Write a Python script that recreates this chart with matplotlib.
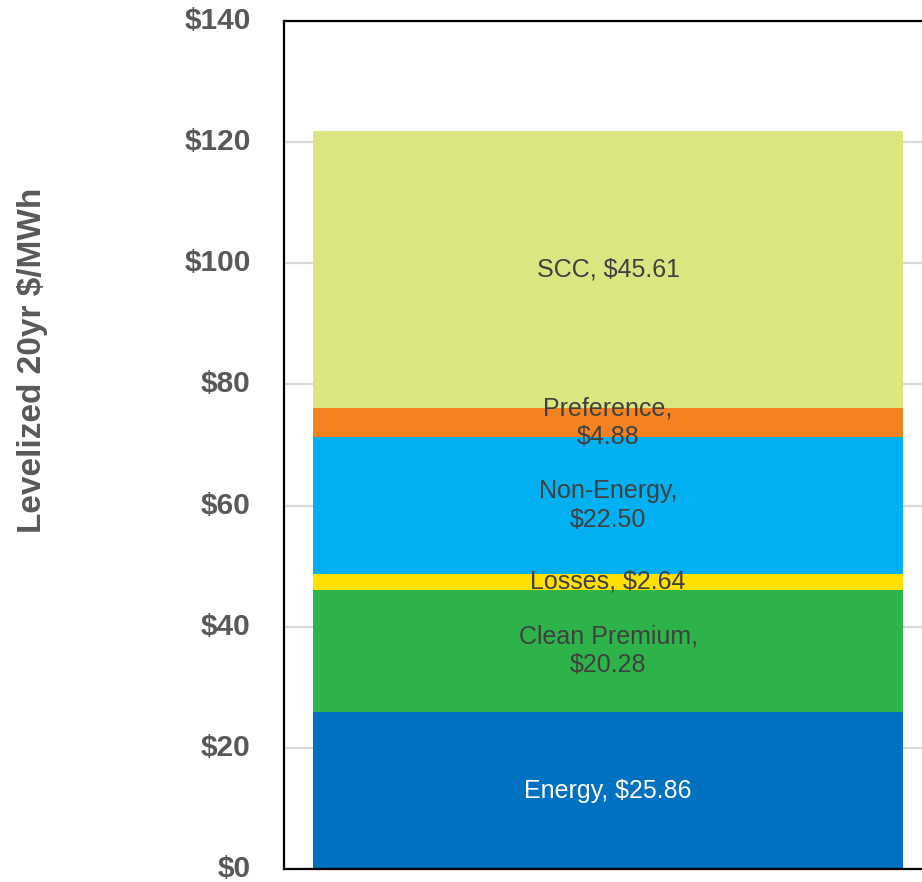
import matplotlib
matplotlib.use("Agg")
import matplotlib.pyplot as plt
import matplotlib.transforms as mtransforms

# Stacked cost components, bottom to top
segments = ['Energy', 'Clean Premium', 'Losses', 'Non-Energy', 'Preference', 'SCC']
values = [25.86, 20.28, 2.64, 22.50, 4.88, 45.61]
labels = ['Energy, $25.86', 'Clean Premium,\n$20.28', 'Losses, $2.64',
          'Non-Energy,\n$22.50', 'Preference,\n$4.88', 'SCC, $45.61']
colors = ['#0070C0', '#2DB34A', '#FFE000', '#00B0F0', '#F58220', '#DCE680']
label_colors = ['white', '#404040', '#404040', '#404040', '#404040', '#404040']
yticks = [0, 20, 40, 60, 80, 100, 120, 140]
ytick_labels = ['$0', '$20', '$40', '$60', '$80', '$100', '$120', '$140']

plt.rcParams['font.family'] = ['Liberation Sans', 'DejaVu Sans']

fig = plt.figure(figsize=(9.22, 8.82), dpi=100)
# axes runs past the right edge of the picture, as in the source
ax = fig.add_axes([284 / 922, 13 / 882, 676 / 922, 848 / 882])

bar_x = 0.4793
bar_w = 0.8728
bottom = 0
for val, lab, col, lcol in zip(values, labels, colors, label_colors):
    ax.bar(bar_x, val, width=bar_w, bottom=bottom, color=col, zorder=2)
    ax.text(bar_x, bottom + val / 2, lab, ha='center', va='center',
            fontsize=18, color=lcol, linespacing=1.25, zorder=3)
    bottom += val

ax.set_xlim(0, 1)
ax.set_ylim(0, 140)
ax.set_yticks(yticks)
ax.set_yticklabels(ytick_labels, fontsize=21.5, fontweight='bold', color='#595959')
ax.tick_params(axis='y', length=0, pad=24)
ax.set_xticks([])
ax.yaxis.grid(True, color='#D9D9D9', linewidth=1.6, zorder=0)
ax.set_axisbelow(True)

# nudge tick labels up a little so "$0" stays inside the picture
shift = mtransforms.ScaledTranslation(0, 3 / 100, fig.dpi_scale_trans)
for t in ax.get_yticklabels():
    t.set_transform(t.get_transform() + shift)

for side in ['left', 'top', 'bottom']:
    ax.spines[side].set_linewidth(1.6)
    ax.spines[side].set_color('black')
ax.spines['right'].set_visible(False)

fig.text(33 / 922, 1 - 360 / 882, 'Levelized 20yr $/MWh', rotation=90,
         ha='center', va='center', fontsize=24, fontweight='bold', color='#595959')

fig.savefig('out.png', dpi=100)
